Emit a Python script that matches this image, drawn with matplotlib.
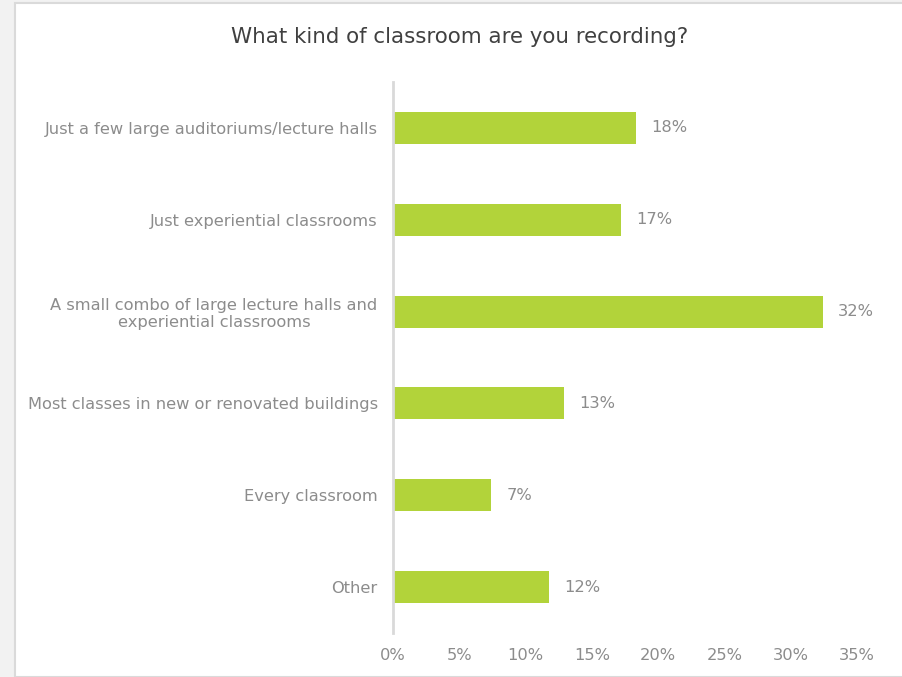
import numpy as np
import matplotlib
matplotlib.use("Agg")
from matplotlib import pyplot as plt
from matplotlib.patches import Rectangle

categories = ["Just a few large auditoriums/lecture halls",
              "Just experiential classrooms",
              "A small combo of large lecture halls and\nexperiential classrooms",
              "Most classes in new or renovated buildings",
              "Every classroom",
              "Other"]
values = [18.3, 17.2, 32.4, 12.9, 7.4, 11.8]
xticks = [0, 5, 10, 15, 20, 25, 30, 35]

bar_color = "#b2d33a"
grey_txt = "#8c8c8c"

W, H = 903, 677
fig = plt.figure(figsize=(W / 100, H / 100), dpi=100)
fig.patch.set_facecolor("#f2f2f2")

# white panel with light border, kept behind the axes
fig.patches.append(Rectangle((15 / W, 0), 1, 1 - 3 / H, transform=fig.transFigure,
                             facecolor="white", edgecolor="#dadada", linewidth=1.5, zorder=-10))

ax = fig.add_axes([393 / W, 1 - 633 / H, (857 - 393) / W, (633 - 82) / H])
ax.set_facecolor("none")

y_pos = np.arange(len(categories))
ax.barh(y_pos, values, height=0.35, color=bar_color, zorder=2)

for y, v in zip(y_pos, values):
    ax.annotate(f"{round(v)}%", (v, y), xytext=(11, 0), textcoords="offset points",
                ha="left", va="center", fontsize=11.7, color=grey_txt)

ax.set_xlim(0, 35)
ax.set_ylim(len(categories) - 0.5, -0.5)
ax.set_xticks(xticks)
ax.set_xticklabels([f"{t}%" for t in xticks])
ax.set_yticks(y_pos)
ax.set_yticklabels(categories)
for lab in ax.get_yticklabels():
    lab.set_multialignment("center")

ax.tick_params(axis="both", length=0, labelsize=11.7, labelcolor=grey_txt)
ax.tick_params(axis="y", pad=11)
ax.tick_params(axis="x", pad=10.5)

for s in ["top", "right", "bottom"]:
    ax.spines[s].set_visible(False)
ax.spines["left"].set_color("#d9d9d9")
ax.spines["left"].set_linewidth(2)

fig.text(460 / W, 1 - 37 / H, "What kind of classroom are you recording?",
         ha="center", va="center", fontsize=15.4, color="#404040")

fig.savefig("out.png", dpi=100, facecolor=fig.get_facecolor())
